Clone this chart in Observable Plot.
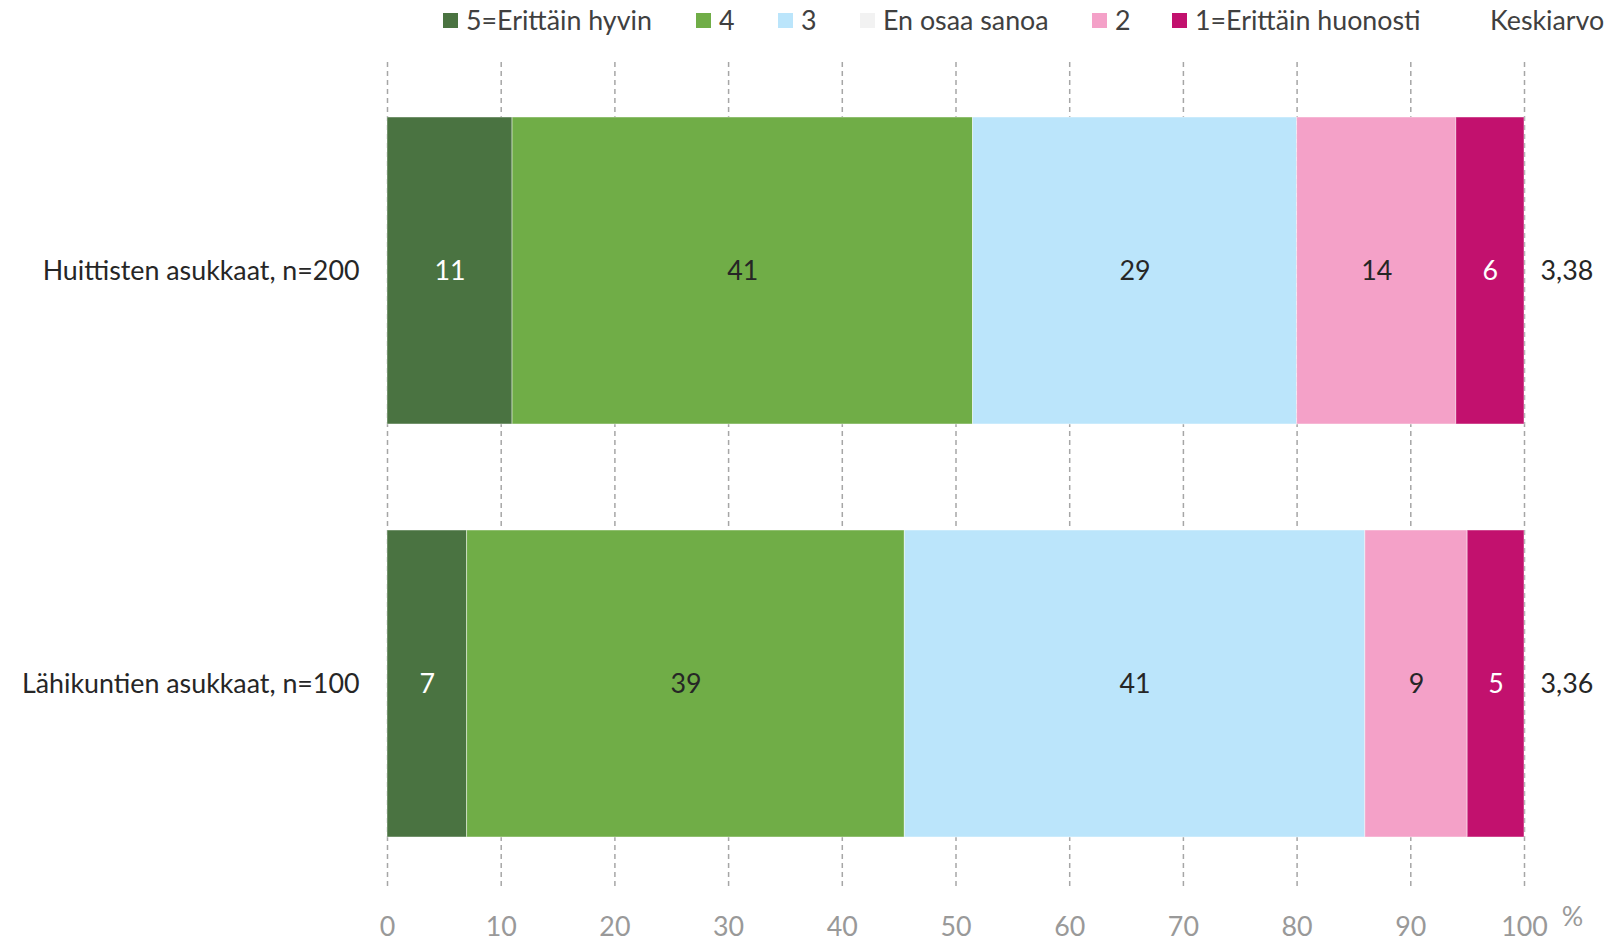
<!DOCTYPE html>
<html>
<head>
<meta charset="utf-8">
<script src="https://cdn.jsdelivr.net/npm/d3@7"></script>
<script src="https://cdn.jsdelivr.net/npm/@observablehq/plot@0.6"></script>
<style>
  html, body { margin: 0; padding: 0; background: #fff; }
  body { width: 1614px; height: 944px; overflow: hidden; font-family: Lato, "Open Sans", sans-serif; }
  #legend { position: relative; height: 40px; width: 1614px; font-size: 26.8px; color: #404040; }
  .item { position: absolute; top: 0; height: 40px; display: flex; align-items: center; white-space: nowrap; }
  .sw { width: 15px; height: 15px; margin-right: 8px; }
</style>
</head>
<body>
<div id="legend"></div>
<div id="chart"></div>
<script>
const groups = ["Huittisten asukkaat, n=200", "Lähikuntien asukkaat, n=100"];
const categories = ["5=Erittäin hyvin", "4", "3", "En osaa sanoa", "2", "1=Erittäin huonosti"];
const colors = ["#4a7341", "#70ad47", "#bbe5fb", "#f2f2f2", "#f4a1c8", "#c2116e"];
const huittisten = [11, 40.5, 28.5, 0, 14, 6];
const lahikuntien = [7, 38.5, 40.5, 0, 9, 5];
const means = ["3,38", "3,36"];
const meanLabel = "Keskiarvo";
const xTicks = [0, 10, 20, 30, 40, 50, 60, 70, 80, 90, 100];
const unitLabel = "%";
const darkCats = ["5=Erittäin hyvin", "1=Erittäin huonosti"];

// legend (HTML, above the SVG)
const legendLefts = [443, 696, 778, 860, 1092, 1172];
const legend = document.getElementById("legend");
categories.forEach((c, i) => {
  const it = document.createElement("div");
  it.className = "item";
  it.style.left = legendLefts[i] + "px";
  it.innerHTML = `<span class="sw" style="background:${colors[i]}"></span><span>${c}</span>`;
  legend.appendChild(it);
});
const km = document.createElement("div");
km.className = "item";
km.style.left = "1490px";
km.textContent = meanLabel;
legend.appendChild(km);

const series = [huittisten, lahikuntien];
const data = groups.flatMap((g, i) =>
  series[i].map((v, j) => ({group: g, cat: categories[j], value: v}))
);
const meanData = groups.map((g, i) => ({group: g, x: 100, text: means[i]}));

const chart = Plot.plot({
  width: 1614,
  height: 904,
  marginLeft: 387,
  marginRight: 90,
  marginTop: 22,
  marginBottom: 56,
  style: {fontFamily: "Lato, 'Open Sans', sans-serif", fontSize: "26.8px", background: "#fff"},
  x: {domain: [0, 100]},
  y: {domain: groups, paddingInner: 0.2567, paddingOuter: 0.128, insetTop: 2, insetBottom: -2},
  color: {domain: categories, range: colors},
  marks: [
    Plot.ruleX(xTicks, {stroke: "#a6a6a6", strokeWidth: 1.5, strokeDasharray: "5,4"}),
    Plot.barX(data, Plot.stackX({x: "value", y: "group", fill: "cat", stroke: "#ffffff", strokeOpacity: 0.45, strokeWidth: 1})),
    Plot.textX(data, Plot.stackX({
      x: "value", y: "group", z: "cat",
      text: d => d.value > 0 && !darkCats.includes(d.cat) ? String(Math.round(d.value)) : "",
      fill: "#262626"
    })),
    Plot.textX(data, Plot.stackX({
      x: "value", y: "group", z: "cat",
      text: d => d.value > 0 && darkCats.includes(d.cat) ? String(Math.round(d.value)) : "",
      fill: "#ffffff"
    })),
    Plot.text(meanData, {x: "x", y: "group", text: "text", dx: 16, textAnchor: "start", fill: "#262626"}),
    Plot.text([unitLabel], {x: () => 100, text: d => d, frameAnchor: "bottom", dx: 48, dy: 37, fill: "#999999"}),
    Plot.axisX({ticks: xTicks, tickSize: 0, tickPadding: 28, label: null, color: "#999999"}),
    Plot.axisY({tickSize: 0, tickPadding: 28, label: null, color: "#262626"})
  ]
});
document.getElementById("chart").appendChild(chart);
</script>
</body>
</html>
